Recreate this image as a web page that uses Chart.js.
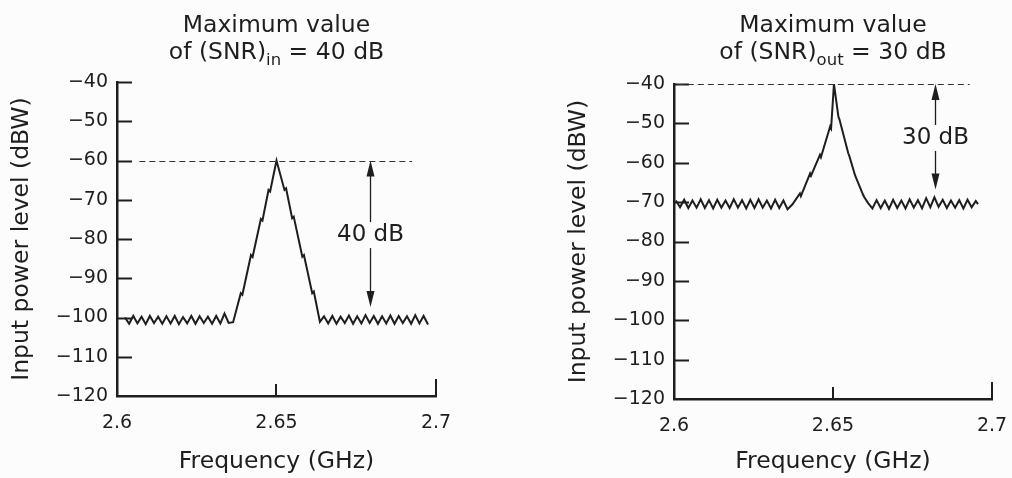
<!DOCTYPE html>
<html><head><meta charset="utf-8">
<script src="https://cdn.jsdelivr.net/npm/chart.js@4.4.1/dist/chart.umd.min.js"></script>
<style>
html,body{margin:0;padding:0;background:#fcfcfc;}
#wrap{position:relative;width:1012px;height:478px;overflow:hidden;}
canvas{position:absolute;top:0;}
</style></head><body>
<div id="wrap">
<canvas id="cin" width="506" height="478" style="left:0"></canvas>
<canvas id="cout" width="540" height="478" style="left:506px"></canvas>
</div>
<script>
// ---- tick values / labels ----
const xTickValues = [2.6, 2.65, 2.7];
const xTickLabels = ['2.6', '2.65', '2.7'];
const yTickValues = [-120, -110, -100, -90, -80, -70, -60, -50, -40];
const yTickLabels = ['\u2212120', '\u2212110', '\u2212100', '\u221290', '\u221280', '\u221270', '\u221260', '\u221250', '\u221240'];

// ---- left panel: input spectrum (GHz, dBW) ----
const inFreq = [
  2.6025, 2.6038, 2.6051, 2.6064, 2.6077, 2.6090, 2.6103, 2.6116, 2.6129, 2.6142,
  2.6155, 2.6168, 2.6181, 2.6194, 2.6207, 2.6220, 2.6233, 2.6246, 2.6259, 2.6272,
  2.6285, 2.6298, 2.6311, 2.6324, 2.6337, 2.6350, 2.6364,
  2.6388, 2.6393, 2.6420, 2.6425, 2.6451, 2.6456, 2.6475, 2.6480, 2.6500,
  2.6525, 2.6530, 2.6549, 2.6554, 2.6581, 2.6586, 2.6612, 2.6617, 2.6636,
  2.6649, 2.6662, 2.6675, 2.6688, 2.6701, 2.6714, 2.6727, 2.6740, 2.6753, 2.6766,
  2.6779, 2.6792, 2.6805, 2.6818, 2.6831, 2.6844, 2.6857, 2.6870, 2.6883, 2.6896,
  2.6909, 2.6922, 2.6935, 2.6948, 2.6961, 2.6975
];
const inLevel = [
  -100.0, -101.6, -99.6, -101.5, -99.8, -101.7, -99.6, -101.4, -99.8, -101.6,
  -99.7, -101.5, -99.6, -101.7, -99.9, -101.5, -99.6, -101.6, -99.7, -101.4,
  -99.8, -101.6, -99.6, -101.5, -99.0, -101.4, -101.2,
  -93.8, -94.2, -84.1, -84.6, -74.9, -75.3, -67.5, -67.9, -60.0,
  -67.5, -67.1, -74.7, -74.3, -84.5, -84.1, -93.8, -93.4, -101.1,
  -99.7, -101.5, -99.6, -101.6, -99.8, -101.4, -99.5, -101.6, -99.7, -101.5,
  -99.4, -101.4, -99.6, -101.6, -99.7, -101.5, -99.5, -101.6, -99.6, -101.4,
  -99.7, -101.6, -99.4, -101.5, -99.6, -101.8
];

// ---- right panel: output spectrum (GHz, dBW) ----
const outFreq = [
  2.6006, 2.6019, 2.6032, 2.6045, 2.6058, 2.6071, 2.6084, 2.6097, 2.6110, 2.6123,
  2.6136, 2.6149, 2.6162, 2.6175, 2.6188, 2.6201, 2.6214, 2.6227, 2.6240, 2.6253,
  2.6266, 2.6279, 2.6292, 2.6305, 2.6318, 2.6331, 2.6344, 2.6357, 2.6372,
  2.6396, 2.6399, 2.6428, 2.6431, 2.6459, 2.6462, 2.6491, 2.6494, 2.6503,
  2.6517, 2.6520, 2.6548, 2.6551, 2.6569, 2.6572, 2.6595, 2.6598, 2.6611,
  2.6624, 2.6637, 2.6650, 2.6663, 2.6676, 2.6689, 2.6702, 2.6715, 2.6728, 2.6741,
  2.6754, 2.6767, 2.6780, 2.6793, 2.6806, 2.6819, 2.6832, 2.6845, 2.6858, 2.6871,
  2.6884, 2.6897, 2.6910, 2.6923, 2.6936, 2.6949, 2.6956
];
const outLevel = [
  -69.6, -71.3, -69.4, -71.5, -69.6, -71.4, -69.3, -71.5, -69.5, -71.6,
  -69.4, -71.4, -69.6, -71.5, -69.3, -71.4, -69.5, -71.6, -69.4, -71.5,
  -69.3, -71.4, -69.6, -71.6, -69.4, -71.5, -69.6, -71.8, -70.6,
  -67.8, -68.5, -62.7, -63.3, -58.0, -58.6, -50.8, -51.3, -40.0,
  -48.3, -48.9, -57.6, -58.2, -63.1, -63.7, -68.2, -68.7, -70.3,
  -71.6, -69.5, -71.5, -69.6, -71.7, -69.4, -71.5, -69.6, -71.6, -69.3,
  -71.4, -69.5, -71.6, -69.0, -71.3, -68.8, -71.2, -69.4, -71.5, -69.6,
  -71.4, -69.5, -71.6, -69.4, -71.3, -69.7, -70.5
];

// ---- annotations: [from GHz, to GHz, level dBW] and [GHz, top dBW, bottom dBW, label dBW] ----
const inRefLine = [2.607, 2.6925, -60];
const inArrow = [2.6793, -60, -97.3, -79];
const outRefLine = [2.6012, 2.693, -40];
const outArrow = [2.6821, -40, -66.8, -53.7];
const inTitle = ['Maximum value', 'of (SNR)', 'in', ' = 40 dB'];
const outTitle = ['Maximum value', 'of (SNR)', 'out', ' = 30 dB'];
const inGapLabel = '40 dB';
const outGapLabel = '30 dB';

const INK = '#1e1e1e';
const FONT = "'DejaVu Sans', sans-serif";

function seg(ctx, x1, y1, x2, y2) { ctx.beginPath(); ctx.moveTo(x1, y1); ctx.lineTo(x2, y2); ctx.stroke(); }
function head(ctx, x, yTip, dir) {
  ctx.beginPath();
  ctx.moveTo(x, yTip);
  ctx.lineTo(x - 4, yTip + dir * 16);
  ctx.lineTo(x + 4, yTip + dir * 16);
  ctx.closePath();
  ctx.fill();
}

const annotPlugin = {
  id: 'annot',
  afterDatasetsDraw(chart, args, opts) {
    const { ctx, chartArea: ca, scales: { x, y } } = chart;
    ctx.save();
    ctx.strokeStyle = INK; ctx.fillStyle = INK; ctx.lineWidth = 2;
    // inward tick marks
    yTickValues.forEach(v => {
      if (v === y.min) return;
      const py = Math.round(y.getPixelForValue(v)) + 0.5;
      seg(ctx, ca.left, py, ca.left + 15, py);
    });
    xTickValues.forEach(v => {
      if (v === x.min) return;
      const px = Math.round(x.getPixelForValue(v));
      seg(ctx, px, ca.bottom, px, ca.bottom - (v === x.max ? 17 : 12));
    });
    // dashed reference line
    const rl = opts.refLine;
    ctx.lineWidth = 1.2; ctx.strokeStyle = '#333';
    ctx.setLineDash([6, 4]);
    const ry = Math.round(y.getPixelForValue(rl[2])) + 0.5;
    seg(ctx, x.getPixelForValue(rl[0]), ry, x.getPixelForValue(rl[1]), ry);
    ctx.setLineDash([]);
    // double arrow with label
    const ar = opts.arrow;
    const ax = Math.round(x.getPixelForValue(ar[0])) + 0.5;
    const yTop = y.getPixelForValue(ar[1]);
    const yBot = y.getPixelForValue(ar[2]);
    const yLab = y.getPixelForValue(ar[3]);
    ctx.lineWidth = 1.3; ctx.strokeStyle = INK;
    seg(ctx, ax, yTop + 8, ax, yLab - 13);
    seg(ctx, ax, yLab + 13, ax, yBot - 8);
    head(ctx, ax, yTop, 1);
    head(ctx, ax, yBot, -1);
    ctx.font = '23px ' + FONT;
    ctx.textAlign = 'center'; ctx.textBaseline = 'middle';
    ctx.fillText(opts.label, ax, yLab);
    // two-line title with subscript
    const t = opts.title;
    const cx = (ca.left + ca.right) / 2;
    ctx.font = '23.5px ' + FONT;
    ctx.textBaseline = 'alphabetic';
    ctx.textAlign = 'center';
    ctx.fillText(t[0], cx, 32);
    const mainF = '23.5px ' + FONT, subF = '16.5px ' + FONT;
    ctx.font = mainF; const w1 = ctx.measureText(t[1]).width; const w3 = ctx.measureText(t[3]).width;
    ctx.font = subF; const w2 = ctx.measureText(t[2]).width;
    let sx = cx - (w1 + w2 + w3) / 2;
    ctx.textAlign = 'left';
    ctx.font = mainF; ctx.fillText(t[1], sx, 59); sx += w1;
    ctx.font = subF; ctx.fillText(t[2], sx, 65); sx += w2;
    ctx.font = mainF; ctx.fillText(t[3], sx, 59);
    ctx.restore();
  }
};

function makeChart(id, freq, level, pad, axisH, extra) {
  const pts = freq.map((f, i) => ({ x: f, y: level[i] }));
  return new Chart(document.getElementById(id), {
    type: 'line',
    data: { datasets: [{ data: pts, borderColor: INK, borderWidth: 2, pointRadius: 0, tension: 0, fill: false }] },
    options: {
      responsive: false, animation: false, events: [],
      layout: { padding: pad },
      plugins: { legend: { display: false }, tooltip: { enabled: false }, annot: extra },
      scales: {
        x: {
          type: 'linear', min: 2.6, max: 2.7,
          afterBuildTicks: s => { s.ticks = xTickValues.map(v => ({ value: v })); },
          afterFit: s => { s.height = axisH; },
          grid: { display: false, drawTicks: false },
          border: { display: true, color: INK, width: 2.5 },
          ticks: { color: INK, font: { family: FONT, size: 19 }, padding: 16, maxRotation: 0, autoSkip: false,
                   callback: v => xTickLabels[xTickValues.indexOf(v)] },
          title: { display: true, text: 'Frequency (GHz)', color: INK, font: { family: FONT, size: 23.5 }, padding: { top: 2, bottom: 2 } }
        },
        y: {
          type: 'linear', min: -120, max: -40,
          afterBuildTicks: s => { s.ticks = yTickValues.map(v => ({ value: v })); },
          afterFit: s => { s.width = 117; },
          grid: { display: false, drawTicks: false },
          border: { display: true, color: INK, width: 2.5 },
          ticks: { color: INK, font: { family: FONT, size: 19 }, padding: 9, autoSkip: false,
                   callback: v => yTickLabels[yTickValues.indexOf(v)] },
          title: { display: true, text: 'Input power level (dBW)', color: INK, font: { family: FONT, size: 23.5 }, padding: { top: 8, bottom: 0 } }
        }
      }
    },
    plugins: [annotPlugin]
  });
}

makeChart('cin', inFreq, inLevel, { left: 0, top: 82, right: 70, bottom: 0 }, 82,
  { refLine: inRefLine, arrow: inArrow, label: inGapLabel, title: inTitle });
makeChart('cout', outFreq, outLevel, { left: 51, top: 84, right: 54, bottom: 0 }, 79,
  { refLine: outRefLine, arrow: outArrow, label: outGapLabel, title: outTitle });
</script>
</body></html>
